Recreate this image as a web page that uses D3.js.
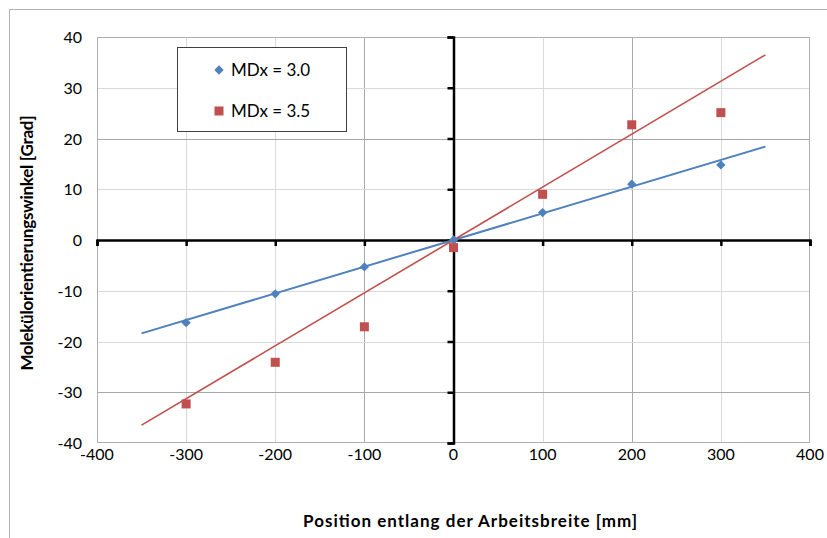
<!DOCTYPE html>
<html><head><meta charset="utf-8">
<script src="https://cdn.jsdelivr.net/npm/d3@7"></script>
<style>body{margin:0;background:#fff}svg{display:block}</style>
</head><body><svg id="c" width="827" height="538"></svg>
<script>
const positions = [-300, -200, -100, 0, 100, 200, 300];
const seriesNames = ["MDx = 3.0", "MDx = 3.5"];
const mdx30 = [-16.3, -10.6, -5.3, 0.0, 5.4, 11.0, 14.8];
const mdx35 = [-32.3, -24.1, -17.1, -1.5, 9.0, 22.7, 25.1];
const xTicks = [-400, -300, -200, -100, 0, 100, 200, 300, 400];
const yTicks = [-40, -30, -20, -10, 0, 10, 20, 30, 40];
const trendRange = [-350, 350];
const xTitle = "Position entlang der Arbeitsbreite [mm]";
const yTitle = "Molekülorientierungswinkel [Grad]";

const colors = ["#4F81BD", "#C0504D"];
const font = "Lato, 'Open Sans', sans-serif";
const svg = d3.select("#c");
const L = 97, R = 810, T = 37, B = 443;
const x = d3.scaleLinear().domain([-400, 400]).range([L, R]);
const y = d3.scaleLinear().domain([-40, 40]).range([B, T]);

// outer chart border
svg.append("rect").attr("x", 9.5).attr("y", 9.5).attr("width", 840).attr("height", 560)
  .attr("fill", "#fff").attr("stroke", "#b3b3b3");

// gridlines
const darkX = new Set([-100, 200]), darkY = new Set([20, -30]);
svg.append("g").selectAll("line").data(xTicks.slice(1, -1)).join("line")
  .attr("x1", d => Math.round(x(d)) + 0.5).attr("x2", d => Math.round(x(d)) + 0.5)
  .attr("y1", T).attr("y2", B)
  .attr("stroke", d => darkX.has(d) ? "#a8a8a8" : "#d9d9d9");
svg.append("g").selectAll("line").data(yTicks.slice(1, -1)).join("line")
  .attr("y1", d => Math.round(y(d)) + 0.5).attr("y2", d => Math.round(y(d)) + 0.5)
  .attr("x1", L).attr("x2", R)
  .attr("stroke", d => darkY.has(d) ? "#a8a8a8" : "#d9d9d9");
svg.append("rect").attr("x", L + 0.5).attr("y", T + 0.5).attr("width", R - L - 1).attr("height", B - T - 1)
  .attr("fill", "none").attr("stroke", "#b0b0b0");

// axes through origin
const xAxis = d3.axisBottom(x).tickValues(xTicks).tickSize(6).tickSizeOuter(6).tickFormat("");
const yAxis = d3.axisLeft(y).tickValues(yTicks).tickSize(6).tickSizeOuter(6).tickFormat("");
const gx = svg.append("g").attr("transform", `translate(0,${y(0)})`).call(xAxis);
const gy = svg.append("g").attr("transform", `translate(${x(0)},0)`).call(yAxis);
[gx, gy].forEach(g => {
  g.selectAll("path,line").attr("stroke", "#000").attr("stroke-width", 2.5);
});

// tick labels
svg.append("g").selectAll("text").data(xTicks).join("text")
  .attr("x", d => x(d)).attr("y", B + 17).attr("text-anchor", "middle")
  .attr("font-family", font).attr("font-size", 16).attr("fill", "#000").text(d => d);
svg.append("g").selectAll("text").data(yTicks).join("text")
  .attr("x", L - 15).attr("y", d => y(d) + 6).attr("text-anchor", "end")
  .attr("font-family", font).attr("font-size", 16).attr("fill", "#000").text(d => d);

// titles
svg.append("text").attr("x", 470).attr("y", 527).attr("text-anchor", "middle")
  .attr("font-family", font).attr("font-weight", "bold").attr("font-size", 17)
  .attr("textLength", 334).attr("lengthAdjust", "spacing").text(xTitle);
svg.append("text").attr("transform", "translate(33,243) rotate(-90)").attr("text-anchor", "middle")
  .attr("font-family", font).attr("font-weight", "bold").attr("font-size", 17)
  .attr("textLength", 255).attr("lengthAdjust", "spacing").text(yTitle);

// trend lines (linear fit forced through origin)
const series = [mdx30, mdx35];
series.forEach((vals, i) => {
  const sxy = d3.sum(positions, (p, k) => p * vals[k]);
  const sxx = d3.sum(positions, p => p * p);
  const m = sxy / sxx;
  svg.append("line")
    .attr("x1", x(trendRange[0])).attr("y1", y(m * trendRange[0]))
    .attr("x2", x(trendRange[1])).attr("y2", y(m * trendRange[1]))
    .attr("stroke", colors[i]).attr("stroke-width", i === 0 ? 2 : 1.6);
});

// markers
const diamond = d3.symbol().type(d3.symbolDiamond2).size(55);
svg.append("g").selectAll("path").data(positions).join("path")
  .attr("transform", (p, k) => `translate(${x(p)},${y(mdx30[k])})`)
  .attr("d", diamond).attr("fill", colors[0]);
svg.append("g").selectAll("rect").data(positions).join("rect")
  .attr("x", (p) => x(p) - 4.5).attr("y", (p, k) => y(mdx35[k]) - 4.5)
  .attr("width", 9).attr("height", 9).attr("fill", colors[1]);

// legend
const lg = svg.append("g");
lg.append("rect").attr("x", 177.5).attr("y", 47.5).attr("width", 169).attr("height", 84)
  .attr("fill", "#fff").attr("stroke", "#404040");
lg.append("path").attr("transform", "translate(219,70)").attr("d", diamond).attr("fill", colors[0]);
lg.append("rect").attr("x", 214.5).attr("y", 106.5).attr("width", 9).attr("height", 9).attr("fill", colors[1]);
seriesNames.forEach((n, i) => {
  lg.append("text").attr("x", 231).attr("y", 76 + i * 41)
    .attr("font-family", font).attr("font-size", 17).text(n);
});
</script></body></html>
